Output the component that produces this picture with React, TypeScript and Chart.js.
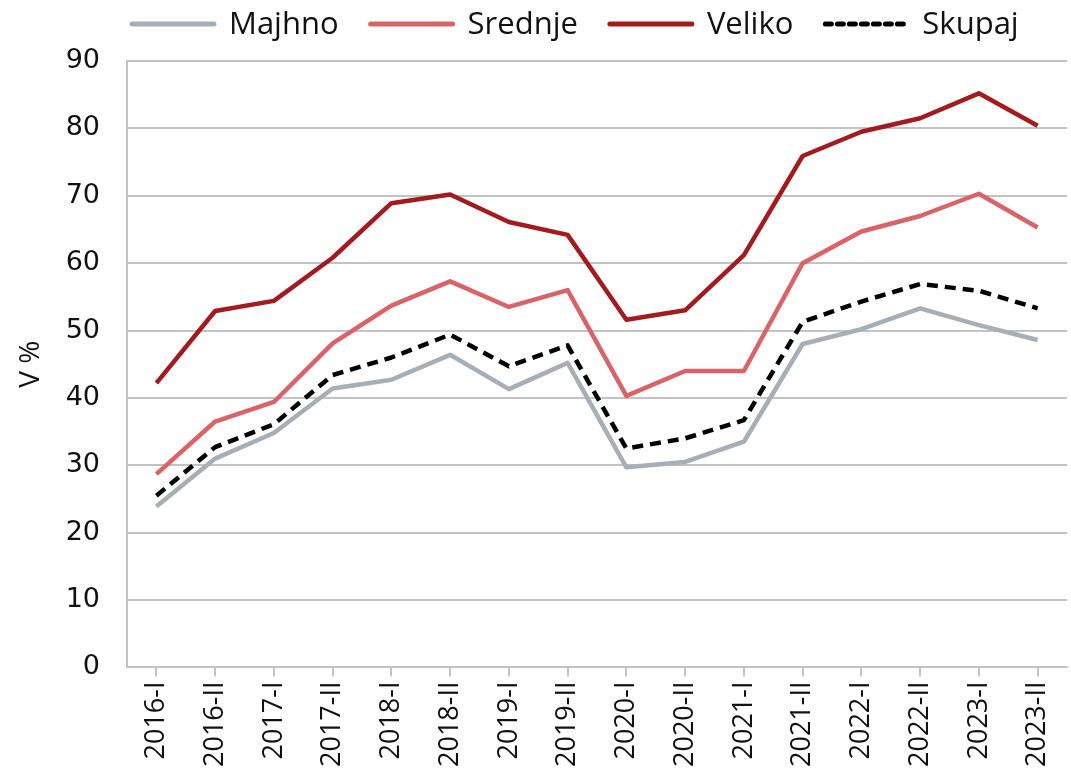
import React, { useEffect, useRef } from "react";
import { Chart, registerables } from "chart.js";

Chart.register(...registerables);

const categories = [
  "2016-I", "2016-II", "2017-I", "2017-II", "2018-I", "2018-II", "2019-I", "2019-II",
  "2020-I", "2020-II", "2021-I", "2021-II", "2022-I", "2022-II", "2023-I", "2023-II",
];

const majhno = [23.9, 31.0, 34.8, 41.4, 42.7, 46.4, 41.3, 45.2, 29.7, 30.5, 33.5, 48.0, 50.2, 53.3, 50.8, 48.6];
const srednje = [28.7, 36.5, 39.4, 48.1, 53.7, 57.3, 53.5, 56.0, 40.3, 44.0, 44.0, 60.0, 64.7, 67.0, 70.3, 65.3];
const veliko = [42.2, 52.9, 54.4, 60.8, 68.9, 70.2, 66.1, 64.2, 51.6, 53.0, 61.2, 75.9, 79.5, 81.5, 85.2, 80.4];
const skupaj = [25.5, 32.7, 36.1, 43.4, 46.0, 49.4, 44.7, 47.8, 32.5, 34.0, 36.7, 51.3, 54.3, 56.9, 55.9, 53.3];

const yTicks = [0, 10, 20, 30, 40, 50, 60, 70, 80, 90];

const FONT = "'Open Sans', 'Noto Sans', sans-serif";
const TICK_FONT_Y = "'DejaVu Sans', 'Open Sans', sans-serif";
const TICK_FONT_X = "'Open Sans', 'Noto Sans', sans-serif";

// Custom legend drawn inside Chart.js, laid out from measured label widths
const topLegend = {
  id: "topLegend",
  afterDraw(chart: any) {
    const ctx = chart.ctx as CanvasRenderingContext2D;
    const lineW = 86;
    const gap = 13;
    const spacing = 30;
    const y = 24;
    ctx.save();
    ctx.font = `31px ${FONT}`;
    ctx.textBaseline = "middle";
    ctx.textAlign = "left";
    let x = chart.chartArea.left + 3;
    chart.data.datasets.forEach((ds: any) => {
      const tw = ctx.measureText(ds.label).width;
      ctx.beginPath();
      ctx.strokeStyle = ds.borderColor;
      ctx.lineWidth = 5;
      ctx.lineCap = "round";
      ctx.setLineDash(ds.borderDash ? [6, 6] : []);
      ctx.moveTo(x + 2, y);
      ctx.lineTo(x + lineW - 2, y);
      ctx.stroke();
      ctx.setLineDash([]);
      ctx.fillStyle = "#111111";
      ctx.fillText(ds.label, x + lineW + gap, y + 1);
      x += lineW + gap + tw + spacing;
    });
    ctx.restore();
  },
};

export default function App() {
  const ref = useRef<HTMLCanvasElement | null>(null);

  useEffect(() => {
    if (!ref.current) return;
    const chart = new Chart(ref.current, {
      type: "line",
      data: {
        labels: categories,
        datasets: [
          { label: "Majhno", data: majhno, borderColor: "#a7afb6", backgroundColor: "#a7afb6", borderWidth: 4.5 },
          { label: "Srednje", data: srednje, borderColor: "#d96467", backgroundColor: "#d96467", borderWidth: 4.5 },
          { label: "Veliko", data: veliko, borderColor: "#a11b1f", backgroundColor: "#a11b1f", borderWidth: 4.5 },
          { label: "Skupaj", data: skupaj, borderColor: "#000000", backgroundColor: "#000000", borderWidth: 4.5, borderDash: [11, 7] },
        ],
      },
      options: {
        animation: false,
        responsive: true,
        maintainAspectRatio: false,
        elements: {
          point: { radius: 0, hoverRadius: 0 },
          line: { tension: 0, borderCapStyle: "butt", borderJoinStyle: "round" },
        },
        layout: { padding: { left: 14, right: 4, top: 61, bottom: 3 } },
        plugins: {
          tooltip: { enabled: false },
          legend: { display: false },
        },
        scales: {
          x: {
            type: "category",
            offset: true,
            afterFit: (scale: any) => {
              scale.paddingLeft = 0;
              scale.paddingRight = 0;
            },
            grid: {
              display: true,
              drawOnChartArea: false,
              drawTicks: true,
              tickLength: 9,
              color: "#c3c3c3",
              lineWidth: 2,
            },
            border: { display: true, color: "#c3c3c3", width: 2 },
            ticks: {
              minRotation: 90,
              maxRotation: 90,
              autoSkip: false,
              padding: 5,
              color: "#111111",
              font: { family: TICK_FONT_X, size: 27 },
            },
          },
          y: {
            min: 0,
            max: 90,
            afterBuildTicks: (axis: any) => {
              axis.ticks = yTicks.map((v) => ({ value: v }));
            },
            afterFit: (scale: any) => {
              scale.width = 113;
            },
            grid: {
              color: "#c3c3c3",
              lineWidth: 2,
              drawTicks: false,
            },
            border: { display: true, color: "#c3c3c3", width: 2 },
            ticks: {
              padding: 27,
              color: "#111111",
              font: { family: TICK_FONT_Y, size: 27 },
            },
            title: {
              display: true,
              text: "V %",
              color: "#111111",
              font: { family: FONT, size: 28 },
              padding: { top: 0, bottom: 0 },
            },
          },
        },
      },
      plugins: [topLegend],
    });
    return () => chart.destroy();
  }, []);

  return (
    <div style={{ position: "absolute", left: 0, top: 0, width: 1071, height: 775, background: "#ffffff" }}>
      <canvas ref={ref} />
    </div>
  );
}
